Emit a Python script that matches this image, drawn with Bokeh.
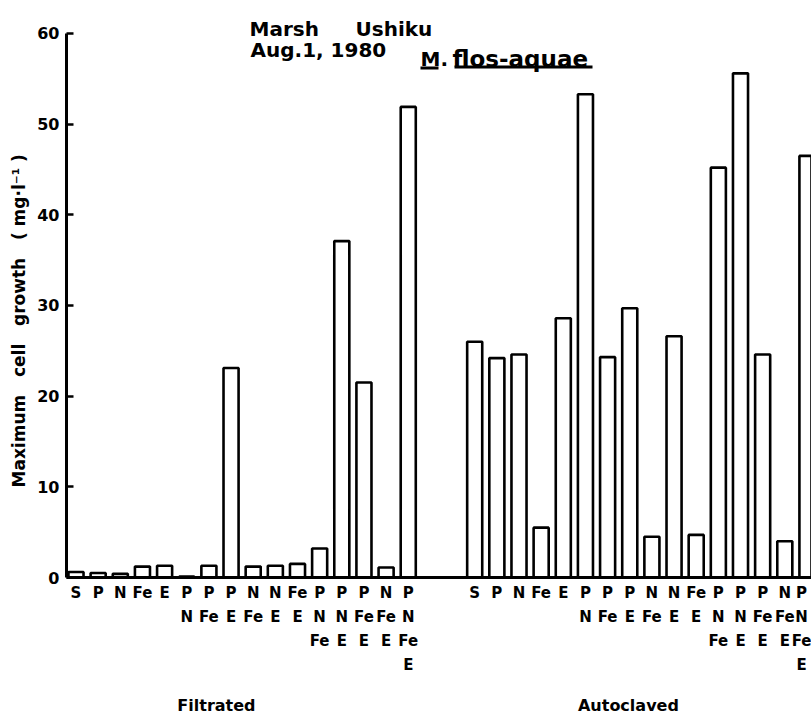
import math
import numpy as np
from bokeh.plotting import figure
from bokeh.models import (Range1d, FixedTicker, Label, BoxAnnotation,
                          LinearAxis, Title)
from bokeh.embed import file_html
from bokeh.resources import INLINE

# Nutrient additions (one bar each), read top to bottom under the bar
combos = ["S", "P", "N", "Fe", "E",
          "P\nN", "P\nFe", "P\nE", "N\nFe", "N\nE", "Fe\nE",
          "P\nN\nFe", "P\nN\nE", "P\nFe\nE", "N\nFe\nE", "P\nN\nFe\nE"]

# Maximum cell growth (mg/l) of M. flos-aquae in each medium
filtrated = [0.6, 0.5, 0.4, 1.2, 1.3, 0.1, 1.3, 23.1, 1.2, 1.3, 1.5,
             3.2, 37.1, 21.5, 1.1, 51.9]
autoclaved = [26.0, 24.2, 24.6, 5.5, 28.6, 53.3, 24.3, 29.7, 4.5, 26.6, 4.7,
              45.2, 55.6, 24.6, 4.0, 46.5]

groups = ["Filtrated", "Autoclaved"]
y_ticks = [0, 10, 20, 30, 40, 50, 60]
NB = "\u00a0"  # non-collapsing space
y_title = (NB * 3).join(["Maximum", "cell", "growth", "(" + NB + "mg·l⁻¹" + NB + ")"])

# ---- layout (pixels) ----
W, H = 811, 718
FRAME_L = 66          # y axis position
BASE = 577            # x axis position (top of canvas = 0)
SLOT_PX = 22.15       # distance between neighbouring bars
X0_PX = 75.5          # centre of the first bar
PX_PER_UNIT = 9.067   # vertical pixels per mg/l
GAP = 2               # empty slots between the two series

FONT = "DejaVu Sans"


def dx(px):
    """canvas x pixel -> data x"""
    return (px - X0_PX) / SLOT_PX


def dy(py):
    """canvas y pixel (from top) -> data y"""
    return (BASE - py) / PX_PER_UNIT


n = len(combos)
x_f = np.arange(n)
x_a = np.arange(n) + n + GAP

p = figure(width=W, height=H,
           x_range=Range1d(dx(FRAME_L), dx(W)),
           y_range=Range1d(0, dy(0)),
           output_backend="svg", toolbar_location=None,
           min_border_left=FRAME_L, min_border_right=0,
           min_border_top=0, min_border_bottom=H - BASE)
p.outline_line_color = None
p.xgrid.visible = False
p.ygrid.visible = False
p.background_fill_color = "white"
p.border_fill_color = "white"

bar_style = dict(width=0.68, bottom=0, fill_color="white",
                 line_color="black", line_width=2.6)
p.vbar(x=x_f, top=filtrated, **bar_style)
p.vbar(x=x_a, top=autoclaved, **bar_style)

label_font = dict(major_label_text_font=FONT,
                  major_label_text_font_style="bold",
                  major_label_text_color="black")

# ---- x axis: stacked nutrient labels ----
xa = p.xaxis[0]
overrides = {int(v): c for v, c in zip(x_f, combos)}
overrides.update({int(v): c for v, c in zip(x_a, combos)})
xa.ticker = FixedTicker(ticks=sorted(overrides))
xa.major_label_overrides = overrides
xa.major_tick_in = 0
xa.major_tick_out = 0
xa.minor_tick_line_color = None
xa.axis_line_width = 3
xa.major_label_standoff = 6
xa.major_label_text_font_size = "15px"
xa.major_label_text_line_height = 1.35
for k, v in label_font.items():
    setattr(xa, k, v)

# ---- group names below the nutrient labels ----
g_pos = [round(dx(216), 2), round(dx(628), 2)]
ga = LinearAxis(ticker=FixedTicker(ticks=g_pos),
                major_label_overrides=dict(zip(g_pos, groups)),
                axis_line_color=None, major_tick_line_color=None,
                minor_tick_line_color=None, major_label_standoff=12,
                major_label_text_font_size="16px", **label_font)
p.add_layout(ga, "below")

# ---- y axis ----
ya = p.yaxis[0]
ya.ticker = FixedTicker(ticks=y_ticks)
ya.bounds = (0, 60)
ya.major_tick_in = 7
ya.major_tick_out = 0
ya.major_tick_line_width = 2.5
ya.minor_tick_line_color = None
ya.axis_line_width = 3
ya.major_label_standoff = 7
ya.major_label_text_font_size = "16px"
for k, v in label_font.items():
    setattr(ya, k, v)

p.add_layout(Title(text=y_title, align="left",
                   offset=90, standoff=12, text_font=FONT,
                   text_font_style="bold", text_font_size="17px",
                   text_color="black"), "left")


# ---- heading ----
def head(text, left, baseline, size="20px"):
    p.add_layout(Label(x=dx(left), y=dy(baseline), text=text, text_font=FONT,
                       text_font_style="bold", text_font_size=size,
                       text_color="black", text_align="left",
                       text_baseline="alphabetic"))


head("Marsh", 249, 28)
head("Ushiku", 355, 28)
head("Aug.1, 1980", 250, 49)
head("M.", 420, 58)
head("flos-aquae", 452, 58, "23px")

for l, r, t, b in [(420, 438, 66, 69), (454, 592, 65, 68)]:
    p.add_layout(BoxAnnotation(left=dx(l), right=dx(r), top=dy(t), bottom=dy(b),
                               fill_color="black", fill_alpha=1,
                               line_color=None))

open("out.html", "w").write(file_html(p, INLINE))
